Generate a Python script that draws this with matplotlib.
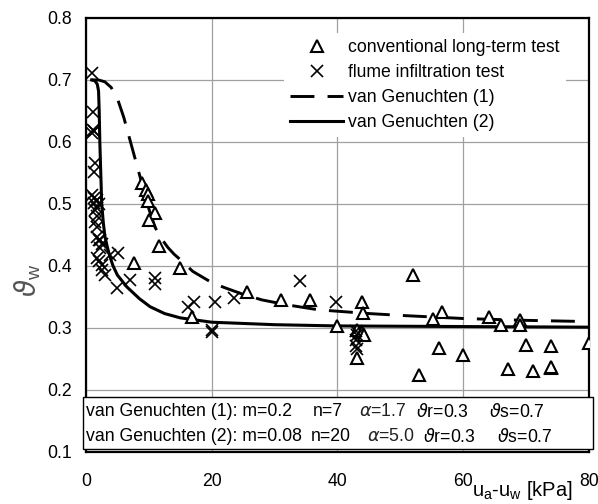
import matplotlib
matplotlib.use("Agg")
import matplotlib.pyplot as plt
from matplotlib.patches import Rectangle

plt.rcParams['font.family'] = ['Liberation Sans', 'DejaVu Sans']
plt.rcParams['mathtext.fontset'] = 'dejavusans'

# conventional long-term test (triangles)
tri_x = [8.9, 9.6, 9.9, 9.9, 11.0, 10.1, 11.6, 7.6, 15.0, 16.9, 25.6, 31.0, 35.6,
         39.9, 43.9, 44.1, 43.1, 44.0, 44.2, 43.1, 52.0, 56.6, 55.3, 56.1, 53.0,
         60.0, 64.2, 66.0, 69.0, 69.0, 70.1, 67.1, 71.1, 74.0, 74.0, 74.0, 80.0]
tri_y = [0.533, 0.523, 0.516, 0.504, 0.485, 0.474, 0.432, 0.405, 0.396, 0.318, 0.358,
         0.345, 0.345, 0.303, 0.341, 0.324, 0.297, 0.294, 0.288, 0.251, 0.386, 0.326,
         0.314, 0.268, 0.224, 0.256, 0.317, 0.305, 0.312, 0.305, 0.273, 0.234, 0.230,
         0.270, 0.235, 0.237, 0.276]

# flume infiltration test (crosses)
crs_x = [0.9, 1.1, 1.1, 1.3, 0.9, 1.4, 1.2, 0.9, 1.3, 1.7, 2.0, 1.2, 1.7, 1.4, 1.7,
         1.4, 1.7, 1.7, 2.0, 2.2, 2.5, 2.2, 3.8, 1.7, 2.0, 2.5, 2.5, 3.0, 5.1, 7.0,
         5.0, 11.0, 11.0, 16.3, 17.2, 20.5, 20.0, 20.1, 23.5, 34.0, 39.8, 43.0,
         43.1, 43.0, 43.0, 43.1]
crs_y = [0.711, 0.649, 0.619, 0.617, 0.614, 0.566, 0.552, 0.515, 0.509, 0.506, 0.500,
         0.501, 0.493, 0.490, 0.480, 0.471, 0.463, 0.447, 0.442, 0.442, 0.436, 0.429,
         0.418, 0.412, 0.407, 0.402, 0.394, 0.385, 0.420, 0.377, 0.364, 0.380, 0.370,
         0.333, 0.342, 0.342, 0.294, 0.296, 0.348, 0.375, 0.341, 0.295, 0.288, 0.281,
         0.270, 0.265]

# van Genuchten (1) curve
vg1_x = [0.9, 2.0, 3.0, 4.0, 5.0, 6.0, 7.0, 8.0, 9.0, 10.0, 11.0, 12.0, 13.0, 14.0,
         15.0, 17.0, 20.0, 22.0, 25.0, 28.0, 32.0, 37.0, 45.0, 50.0, 60.0, 70.0, 80.0]
vg1_y = [0.700, 0.700, 0.697, 0.688, 0.670, 0.640, 0.603, 0.566, 0.529, 0.492, 0.462,
         0.444, 0.430, 0.419, 0.410, 0.391, 0.373, 0.365, 0.354, 0.345, 0.337, 0.329,
         0.323, 0.320, 0.315, 0.312, 0.310]

# van Genuchten (2) curve
vg2_x = [0.9, 1.4, 1.8, 2.0, 2.1, 2.2, 2.35, 2.5, 2.75, 3.0, 3.4, 3.8, 4.3, 5.0, 6.5,
         8.5, 10.2, 12.5, 15.0, 20.0, 30.0, 40.0, 60.0, 80.0]
vg2_y = [0.700, 0.699, 0.693, 0.682, 0.650, 0.600, 0.550, 0.500, 0.470, 0.448, 0.430,
         0.415, 0.400, 0.385, 0.366, 0.347, 0.334, 0.323, 0.316, 0.309, 0.305, 0.303,
         0.302, 0.301]

x_ticks = [0, 20, 40, 60, 80]
y_ticks = [0.1, 0.2, 0.3, 0.4, 0.5, 0.6, 0.7, 0.8]

W, H = 598, 504
fig = plt.figure(figsize=(W / 100, H / 100), dpi=100)
L, R, T, B = 86, 588.7, 18, 451.7
ax = fig.add_axes([L / W, 1 - B / H, (R - L) / W, (B - T) / H])

FS = 12.7
ax.plot(vg1_x, vg1_y, color='black', lw=2.1, dashes=(8.2, 4.5), zorder=3,
        label='van Genuchten (1)')
ax.plot(vg2_x, vg2_y, color='black', lw=2.2, zorder=3, label='van Genuchten (2)')
ax.plot(tri_x, tri_y, linestyle='none', marker='^', ms=8.5, mfc='white', mec='black',
        mew=1.5, zorder=4, label='conventional long-term test')
ax.plot(crs_x, crs_y, linestyle='none', marker='x', ms=9, mec='black', mew=1.2,
        zorder=5, label='flume infiltration test')

ax.set_xlim(0, 80)
ax.set_ylim(0.1, 0.8)
ax.set_xticks(x_ticks)
ax.set_yticks(y_ticks)
ax.set_xticklabels([str(v) for v in x_ticks])
ax.set_yticklabels([f"{v:.1f}" for v in y_ticks])
ax.tick_params(axis='both', length=0, labelsize=FS)
ax.tick_params(axis='y', pad=10)
ax.tick_params(axis='x', pad=15)
ax.grid(True, color='#a0a0a0', lw=0.9)
ax.set_axisbelow(True)
for s in ax.spines.values():
    s.set_linewidth(1.6)
    s.set_color('black')

h = ax.get_legend_handles_labels()
hd = {lab: hh for hh, lab in zip(*h)}
order = ['conventional long-term test', 'flume infiltration test',
         'van Genuchten (1)', 'van Genuchten (2)']
leg = ax.legend([hd[k] for k in order], order, loc='upper left',
                bbox_to_anchor=((284 - L) / (R - L), 1 - (33 - T) / (B - T)),
                frameon=True, fancybox=False, edgecolor='none', facecolor='white',
                framealpha=1, fontsize=FS, handlelength=3.0, handletextpad=0.3,
                labelspacing=0.45, borderpad=0.35, borderaxespad=0)
leg.set_zorder(6)

# parameter box
box = Rectangle((83 / W, 1 - 449 / H), (593 - 83) / W, (449 - 396.7) / H,
                transform=fig.transFigure, facecolor='white', edgecolor='black',
                lw=1.0, zorder=10)
fig.patches.append(box)

def ft(px, py, s, **kw):
    fig.text(px / W, 1 - py / H, s, fontsize=FS, va='center', ha='left', zorder=11, **kw)

r1, r2 = 411.7, 436.7
ft(86, r1, 'van Genuchten (1): m=0.2')
ft(313, r1, 'n=7')
ft(359, r1, r'$\alpha$=1.7', color='#222')
ft(416, r1, r'$\vartheta$r=0.3')
ft(489, r1, r'$\vartheta$s=0.7')
ft(86, r2, 'van Genuchten (2): m=0.08')
ft(311, r2, 'n=20')
ft(367, r2, r'$\alpha$=5.0', color='#222')
ft(423, r2, r'$\vartheta$r=0.3')
ft(497, r2, r'$\vartheta$s=0.7')

# axis labels
fig.text(472 / W, 1 - 496 / H, r'u$_\mathregular{a}$-u$_\mathregular{w}$ [kPa]',
         fontsize=14.5, ha='left', va='baseline')
fig.text(28 / W, 1 - 280 / H, r'$\vartheta_\mathregular{w}$', fontsize=20,
         rotation=90, ha='center', va='center', color='#555')

fig.savefig('out.png', dpi=100)
